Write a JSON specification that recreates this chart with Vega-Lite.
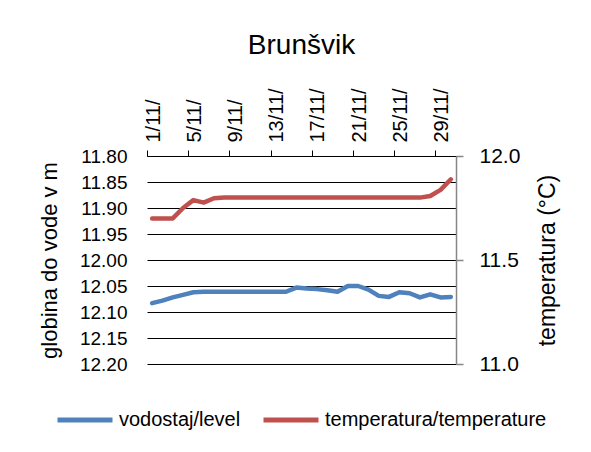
{
  "$schema": "https://vega.github.io/schema/vega-lite/v6.json",
  "width": 309,
  "height": 208,
  "autosize": {"type": "none"},
  "padding": {"left": 147, "top": 156, "right": 135, "bottom": 88},
  "background": "white",
  "config": {
    "font": "Liberation Sans",
    "view": {"stroke": null},
    "axis": {"labelFont": "Liberation Sans", "titleFont": "Liberation Sans", "labelColor": "black", "titleColor": "black", "titleFontWeight": "normal"}
  },
  "title": {"text": "Brunšvik", "frame": "group", "anchor": "middle", "fontSize": 28, "fontWeight": "normal", "font": "Liberation Sans", "color": "black", "offset": 28},
  "data": {"values": [
    {"day": 1, "level": 12.083, "temp": 11.70},
    {"day": 2, "level": 12.078, "temp": 11.70},
    {"day": 3, "level": 12.072, "temp": 11.70},
    {"day": 4, "level": 12.067, "temp": 11.75},
    {"day": 5, "level": 12.062, "temp": 11.788},
    {"day": 6, "level": 12.061, "temp": 11.776},
    {"day": 7, "level": 12.061, "temp": 11.797},
    {"day": 8, "level": 12.061, "temp": 11.80},
    {"day": 9, "level": 12.061, "temp": 11.80},
    {"day": 10, "level": 12.061, "temp": 11.80},
    {"day": 11, "level": 12.061, "temp": 11.80},
    {"day": 12, "level": 12.061, "temp": 11.80},
    {"day": 13, "level": 12.061, "temp": 11.80},
    {"day": 14, "level": 12.061, "temp": 11.80},
    {"day": 15, "level": 12.053, "temp": 11.80},
    {"day": 16, "level": 12.055, "temp": 11.80},
    {"day": 17, "level": 12.056, "temp": 11.80},
    {"day": 18, "level": 12.058, "temp": 11.80},
    {"day": 19, "level": 12.061, "temp": 11.80},
    {"day": 20, "level": 12.050, "temp": 11.80},
    {"day": 21, "level": 12.050, "temp": 11.80},
    {"day": 22, "level": 12.057, "temp": 11.80},
    {"day": 23, "level": 12.069, "temp": 11.80},
    {"day": 24, "level": 12.071, "temp": 11.80},
    {"day": 25, "level": 12.062, "temp": 11.80},
    {"day": 26, "level": 12.064, "temp": 11.80},
    {"day": 27, "level": 12.072, "temp": 11.80},
    {"day": 28, "level": 12.066, "temp": 11.808},
    {"day": 29, "level": 12.072, "temp": 11.837},
    {"day": 30, "level": 12.071, "temp": 11.888}
  ]},
  "encoding": {
    "x": {
      "field": "day", "type": "quantitative",
      "scale": {"domain": [0.5, 30.5], "nice": false, "zero": false},
      "axis": {
        "orient": "top", "title": null, "grid": false,
        "values": [0.5, 4.5, 8.5, 12.5, 16.5, 20.5, 24.5, 28.5],
        "labelExpr": "(datum.value + 0.5) + '/11/'",
        "labelAngle": 270, "labelOffset": 6, "labelFontSize": 20, "labelPadding": 8,
        "labelFlush": false, "labelOverlap": false, "labelBound": false,
        "domainColor": "black", "domainWidth": 1, "tickColor": "black", "tickSize": 6, "tickWidth": 1
      }
    }
  },
  "layer": [
    {
      "mark": {"type": "line", "strokeWidth": 4.5, "strokeCap": "round", "strokeJoin": "round"},
      "encoding": {
        "y": {
          "field": "level", "type": "quantitative",
          "scale": {"domain": [11.8, 12.2], "reverse": true, "nice": false, "zero": false},
          "axis": {
            "title": "globina do vode v m", "titleFontSize": 22, "titlePadding": 18,
            "values": [11.8, 11.85, 11.9, 11.95, 12.0, 12.05, 12.1, 12.15, 12.2],
            "format": ".2f", "labelFontSize": 19, "labelPadding": 20,
            "ticks": false, "domain": false,
            "grid": true, "gridColor": "black", "gridWidth": 1, "gridOpacity": 1
          }
        },
        "color": {
          "datum": "vodostaj/level", "type": "nominal",
          "scale": {"domain": ["vodostaj/level", "temperatura/temperature"], "range": ["#4F81BD", "#C0504D"]},
          "legend": {
            "title": null, "orient": "none", "legendX": -92, "legendY": 234, "direction": "horizontal",
            "symbolType": "stroke", "symbolSize": 3025, "symbolStrokeWidth": 5,
            "labelFontSize": 20, "labelFont": "Liberation Sans", "labelColor": "black", "labelOffset": 4, "labelLimit": 0, "columnPadding": 12
          }
        }
      }
    },
    {
      "mark": {"type": "line", "strokeWidth": 4.5, "strokeCap": "round", "strokeJoin": "round"},
      "encoding": {
        "y": {
          "field": "temp", "type": "quantitative",
          "scale": {"domain": [11.0, 12.0], "nice": false, "zero": false},
          "axis": {
            "orient": "right", "title": "temperatura (°C)", "titleAngle": 270, "titleFontSize": 23, "titlePadding": 40,
            "values": [11.0, 11.5, 12.0], "format": ".1f", "labelFontSize": 21, "labelPadding": 16,
            "grid": false, "domainColor": "#868686", "domainWidth": 1.5, "tickColor": "#868686", "tickSize": 7, "tickWidth": 1.5
          }
        },
        "color": {"datum": "temperatura/temperature", "type": "nominal"}
      }
    }
  ],
  "resolve": {"scale": {"y": "independent"}}
}
